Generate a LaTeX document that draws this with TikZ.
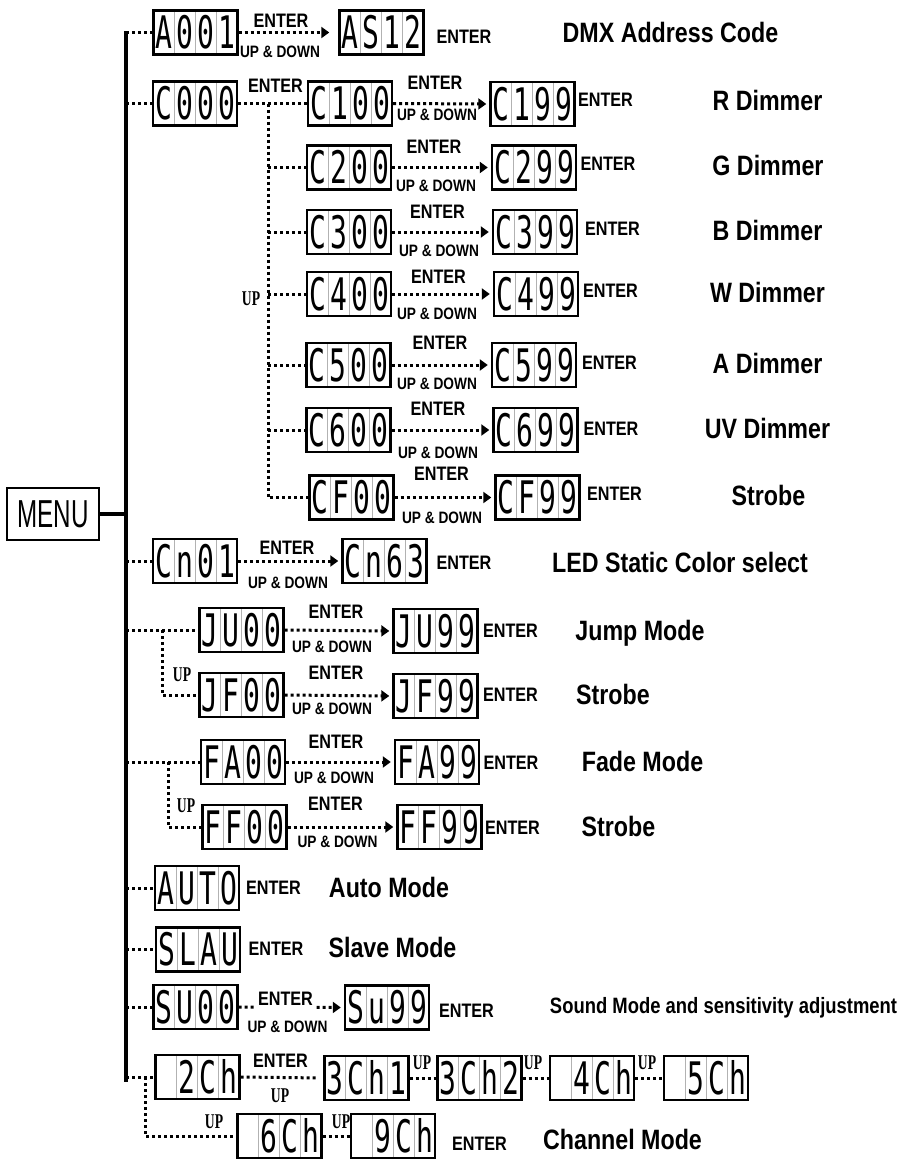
\documentclass[tikz,border=0pt]{standalone}
\usepackage{fontspec}
\usetikzlibrary{arrows.meta,calc}
\newfontfamily\lsbfont{Liberation Sans}[FakeStretch=0.83]
\newfontfamily\menufont{Liberation Sans}[FakeStretch=0.62]
\newfontfamily\upfont{Liberation Serif}[FakeStretch=0.65]
\newfontfamily\segfont{DejaVu Sans Mono}
\def\segloop#1{\ifx#1\relax\else\makebox[21pt]{#1}\expandafter\segloop\fi}
\newcommand\segtxt[1]{\scalebox{1}[1.6]{\segloop#1\relax}}
\tikzset{
  disp/.style={draw, line width=2.4pt, minimum width=84pt, minimum height=44pt, inner sep=0pt,
    font=\segfont\fontsize{28}{30}\selectfont,
    path picture={\foreach \k in {1,2,3}{\draw[black!30, line width=0.7pt]
      ($(path picture bounding box.north west)!\k/4!(path picture bounding box.north east)$) --
      ($(path picture bounding box.south west)!\k/4!(path picture bounding box.south east)$);}}},
  dotline/.style={line width=3pt, dash pattern=on 3pt off 3pt},
  dotarrow/.style={dotline, -{Triangle[length=8pt,width=11pt]}, shorten >=3pt},
  entlab/.style={font=\lsbfont\bfseries\fontsize{19.5}{20}\selectfont, inner sep=0pt, text height=14pt, text depth=0pt},
  updlab/.style={font=\lsbfont\bfseries\fontsize{16.5}{17}\selectfont, inner sep=0pt, text height=12pt, text depth=0pt},
  uplab/.style={font=\upfont\bfseries\fontsize{21}{22}\selectfont, inner sep=0pt, text height=14pt, text depth=0pt},
  desclab/.style={font=\lsbfont\bfseries\fontsize{28}{30}\selectfont, inner sep=0pt, text height=20pt, text depth=0pt},
  sndlab/.style={font=\lsbfont\bfseries\fontsize{22.2}{24}\selectfont, inner sep=0pt, text height=16pt, text depth=0pt},
  menubox/.style={draw, line width=2.4pt, minimum width=92pt, minimum height=52pt, inner sep=0pt,
    font=\menufont\fontsize{39}{40}\selectfont},
}
\begin{document}
\begin{tikzpicture}[x=1pt,y=-1pt]
\useasboundingbox (0,0) rectangle (908,1165);
% MENU and bar
\node[menubox] (menu) at (53,514) {MENU};
\coordinate (bartop) at (126,31);
\coordinate (barbot) at (126,1082);
\draw[line width=4pt] (bartop) -- (barbot);
\draw[line width=4pt] (menu.east) -- (menu.east -| bartop);
% branch coordinates
\coordinate (bC) at (268,0);
\coordinate (bJ) at (162,0);
\coordinate (bF) at (168,0);
\coordinate (bB) at (145,0);

% displays
\node[disp] (A001) at (195.5,32.5) {\segtxt{A001}};
\node[disp] (AS12) at (381.5,32.5) {\segtxt{AS12}};
\node[disp] (C000) at (195,103.5) {\segtxt{C000}};
\node[disp] (C100) at (350,103.5) {\segtxt{C100}};
\node[disp] (C199) at (532.5,104) {\segtxt{C199}};
\node[disp] (C200) at (349,167.5) {\segtxt{C200}};
\node[disp] (C299) at (534,167.5) {\segtxt{C299}};
\node[disp] (C300) at (349,232) {\segtxt{C300}};
\node[disp] (C399) at (535,232) {\segtxt{C399}};
\node[disp] (C400) at (349,294) {\segtxt{C400}};
\node[disp] (C499) at (536,294) {\segtxt{C499}};
\node[disp] (C500) at (348.5,365) {\segtxt{C500}};
\node[disp] (C599) at (534,365) {\segtxt{C599}};
\node[disp] (C600) at (348.5,430) {\segtxt{C600}};
\node[disp] (C699) at (535.5,430) {\segtxt{C699}};
\node[disp] (CF00) at (351.5,497.5) {\segtxt{CF00}};
\node[disp] (CF99) at (537.5,497.5) {\segtxt{CF99}};
\node[disp] (Cn01) at (195,561) {\segtxt{Cn01}};
\node[disp] (Cn63) at (384.5,561) {\segtxt{Cn63}};
\node[disp] (JU00) at (241.5,630) {\segtxt{JU00}};
\node[disp] (JU99) at (435.5,631) {\segtxt{JU99}};
\node[disp] (JF00) at (241.5,695) {\segtxt{JF00}};
\node[disp] (JF99) at (435.5,696) {\segtxt{JF99}};
\node[disp] (FA00) at (243,762) {\segtxt{FA00}};
\node[disp] (FA99) at (437,762) {\segtxt{FA99}};
\node[disp] (FF00) at (244.5,827) {\segtxt{FF00}};
\node[disp] (FF99) at (439.5,827) {\segtxt{FF99}};
\node[disp] (AUTO) at (197,888) {\segtxt{AUTO}};
\node[disp] (SLAU) at (198,949.5) {\segtxt{SLAU}};
\node[disp] (SU00) at (195.5,1007) {\segtxt{SU00}};
\node[disp] (SU99) at (387,1007.5) {\segtxt{Su99}};
\node[disp] (Ch2) at (197.5,1077) {\segtxt{~2Ch}};
\node[disp] (Ch31) at (366.5,1078) {\segtxt{3Ch1}};
\node[disp] (Ch32) at (479.5,1078) {\segtxt{3Ch2}};
\node[disp] (Ch4) at (592,1078) {\segtxt{~4Ch}};
\node[disp] (Ch5) at (706,1078) {\segtxt{~5Ch}};
\node[disp] (Ch6) at (279.5,1136) {\segtxt{~6Ch}};
\node[disp] (Ch9) at (393,1136) {\segtxt{~9Ch}};

% connectors from bar
\foreach \n in {A001,C000,Cn01,JU00,FA00,AUTO,SLAU,SU00,Ch2}
  \draw[dotline] (\n.west -| bartop) -- (\n.west);
% C block
\draw[dotline] (C000.east) -- (C100.west);
\draw[dotline] (C000.east -| bC) |- (CF00.west);
\foreach \n in {C200,C300,C400,C500,C600}
  \draw[dotline] (\n.west -| bC) -- (\n.west);
% J and F branches
\draw[dotline] (JU00.west -| bJ) |- (JF00.west);
\draw[dotline] (FA00.west -| bF) |- (FF00.west);
\draw[dotline] (Ch2.west -| bB) |- (Ch6.west);
% arrows
\draw[dotarrow, shorten >=9pt] (A001.east) -- (AS12.west);
\draw[dotarrow] (C100.east) -- (C199.west);
\draw[dotarrow] (C200.east) -- (C299.west);
\draw[dotarrow] (C300.east) -- (C399.west);
\draw[dotarrow] (C400.east) -- (C499.west);
\draw[dotarrow] (C500.east) -- (C599.west);
\draw[dotarrow] (C600.east) -- (C699.west);
\draw[dotarrow] (CF00.east) -- (CF99.west);
\draw[dotarrow] (Cn01.east) -- (Cn63.west);
\draw[dotarrow] (JU00.east) -- (JU99.west);
\draw[dotarrow] (JF00.east) -- (JF99.west);
\draw[dotarrow] (FA00.east) -- (FA99.west);
\draw[dotarrow] (FF00.east) -- (FF99.west);
\draw[dotarrow] (SU00.east) -- (SU99.west);
% channel chain
\draw[dotline, shorten >=7pt] (Ch2.east) -- (Ch31.west);
\draw[dotline] (Ch31.east) -- (Ch32.west);
\draw[dotline] (Ch32.east) -- (Ch4.west);
\draw[dotline] (Ch4.east) -- (Ch5.west);
\draw[dotline] (Ch6.east) -- (Ch9.west);

% labels row A
\node[entlab] (eA1) at (281,20) {ENTER};
\node[updlab] (uA1) at (280,51) {UP \& DOWN};
\node[entlab] (eA2) at (464,36) {ENTER};
\node[desclab] (dA) at (670.5,32) {DMX Address Code};
% C block labels
\node[entlab] (eC0) at (275.5,85) {ENTER};
\node[entlab] (eC1) at (435,82) {ENTER};
\node[updlab] (uC1) at (437,114) {UP \& DOWN};
\node[entlab] (fC1) at (605.5,99) {ENTER};
\node[desclab] (dC1) at (767.5,100) {R Dimmer};
\node[entlab] (eC2) at (434,146) {ENTER};
\node[updlab] (uC2) at (436,185) {UP \& DOWN};
\node[entlab] (fC2) at (608,163) {ENTER};
\node[desclab] (dC2) at (768,165) {G Dimmer};
\node[entlab] (eC3) at (437.5,211) {ENTER};
\node[updlab] (uC3) at (439,250) {UP \& DOWN};
\node[entlab] (fC3) at (612.5,228) {ENTER};
\node[desclab] (dC3) at (767.5,230) {B Dimmer};
\node[entlab] (eC4) at (438.5,276) {ENTER};
\node[updlab] (uC4) at (437,313) {UP \& DOWN};
\node[entlab] (fC4) at (610.5,290) {ENTER};
\node[desclab] (dC4) at (767.5,292) {W Dimmer};
\node[uplab] (upC) at (251,298) {UP};
\node[entlab] (eC5) at (440,342) {ENTER};
\node[updlab] (uC5) at (437,383) {UP \& DOWN};
\node[entlab] (fC5) at (609.5,362) {ENTER};
\node[desclab] (dC5) at (767.5,363) {A Dimmer};
\node[entlab] (eC6) at (438,408) {ENTER};
\node[updlab] (uC6) at (438,452) {UP \& DOWN};
\node[entlab] (fC6) at (611,428) {ENTER};
\node[desclab] (dC6) at (767.5,428) {UV Dimmer};
\node[entlab] (eCF) at (441.5,473) {ENTER};
\node[updlab] (uCF) at (442,517) {UP \& DOWN};
\node[entlab] (fCF) at (614.5,493) {ENTER};
\node[desclab] (dCF) at (768.5,495) {Strobe};
% Cn
\node[entlab] (eCn) at (287,547) {ENTER};
\node[updlab] (uCn) at (288,582) {UP \& DOWN};
\node[entlab] (fCn) at (464,562) {ENTER};
\node[desclab] (dCn) at (680,562) {LED Static Color select};
% J
\node[entlab] (eJU) at (336,611) {ENTER};
\node[updlab] (uJU) at (332,646) {UP \& DOWN};
\node[entlab] (fJU) at (510.5,630) {ENTER};
\node[desclab] (dJU) at (640,630) {Jump Mode};
\node[entlab] (eJF) at (336,672) {ENTER};
\node[updlab] (uJF) at (332,708) {UP \& DOWN};
\node[entlab] (fJF) at (510.5,694) {ENTER};
\node[desclab] (dJF) at (613,694) {Strobe};
\node[uplab] (upJ) at (182,674) {UP};
% F
\node[entlab] (eFA) at (336,741) {ENTER};
\node[updlab] (uFA) at (334,777) {UP \& DOWN};
\node[entlab] (fFA) at (511,762) {ENTER};
\node[desclab] (dFA) at (642.5,761) {Fade Mode};
\node[entlab] (eFF) at (335.5,803) {ENTER};
\node[updlab] (uFF) at (337.5,841) {UP \& DOWN};
\node[entlab] (fFF) at (512.5,827) {ENTER};
\node[desclab] (dFF) at (618.5,826) {Strobe};
\node[uplab] (upF) at (186,805) {UP};
% Auto, Slave
\node[entlab] (fAU) at (273.5,887) {ENTER};
\node[desclab] (dAU) at (389,887) {Auto Mode};
\node[entlab] (fSL) at (276,948) {ENTER};
\node[desclab] (dSL) at (392.5,947) {Slave Mode};
% Sound
\node[entlab, fill=white, inner xsep=3pt, inner ysep=4pt] (eSU) at (285.5,998) {ENTER};
\node[updlab] (uSU) at (287.5,1026) {UP \& DOWN};
\node[entlab] (fSU) at (466.5,1010) {ENTER};
\node[sndlab] (dSU) at (723.5,1005) {Sound Mode and sensitivity adjustment};
% Channel
\node[entlab] (eCh) at (280.5,1060) {ENTER};
\node[uplab] (uCh) at (280,1095) {UP};
\node[uplab] (up1) at (422,1062) {UP};
\node[uplab] (up2) at (533,1062) {UP};
\node[uplab] (up3) at (647,1062) {UP};
\node[uplab] (up4) at (214,1121) {UP};
\node[uplab] (up5) at (341,1121) {UP};
\node[entlab] (fCh) at (479.5,1143) {ENTER};
\node[desclab] (dCh) at (622.5,1139) {Channel Mode};
\end{tikzpicture}
\end{document}
